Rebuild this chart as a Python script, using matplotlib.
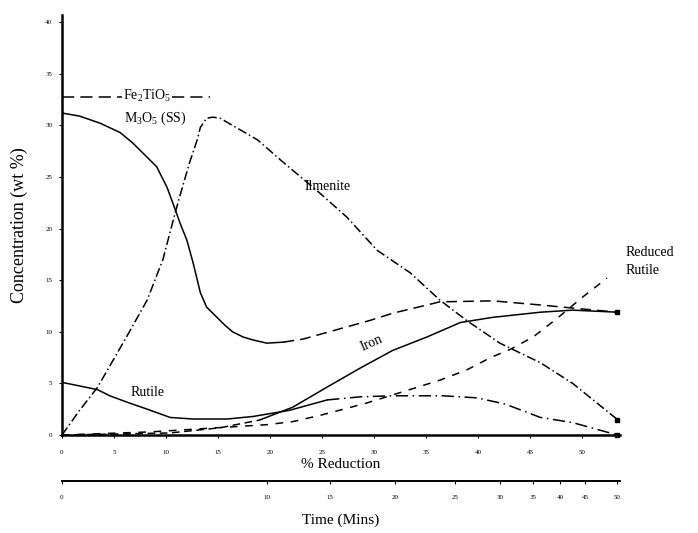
import matplotlib
matplotlib.use("Agg")
import matplotlib.pyplot as plt

plt.rcParams["font.family"] = ["Liberation Serif", "DejaVu Serif"]
plt.rcParams["mathtext.fontset"] = "custom"
plt.rcParams["mathtext.rm"] = "Liberation Serif"

# x = % reduction, y = concentration (wt %)
fe2tio5_x = [0.0, 14.2]
fe2tio5_y = [32.75, 32.75]

m3o5_x = [0.0, 1.7, 3.7, 5.6, 6.8, 8.0, 9.1, 10.1, 10.9, 11.4, 12.0, 12.6, 13.3,
          13.9, 14.9, 15.7, 16.4, 17.4, 18.4, 19.7, 21.3,
          23.2, 26.4, 29.6, 31.8, 35.1, 36.3, 41.4, 46.0, 49.1, 53.4]
m3o5_y = [31.2, 30.9, 30.2, 29.3, 28.3, 27.1, 26.0, 24.0, 21.8, 20.4, 18.9, 16.7, 13.8,
          12.4, 11.4, 10.6, 10.0, 9.5, 9.2, 8.9, 9.0,
          9.3, 10.2, 11.1, 11.8, 12.6, 12.9, 13.0, 12.6, 12.3, 11.9]
m3o5_split = 20

ilm_x = [0.0, 1.7, 3.4, 6.2, 8.2, 9.7, 10.9, 11.6, 12.3, 13.0, 13.3, 13.9, 14.5, 15.2,
         16.4, 18.8, 21.3, 24.5, 27.4, 30.3, 33.5, 36.3, 38.9, 42.1, 46.0, 49.1, 53.4]
ilm_y = [0.0, 2.4, 4.6, 9.5, 13.1, 17.0, 21.6, 24.1, 26.5, 28.6, 29.8, 30.7, 30.8, 30.7,
         30.0, 28.6, 26.4, 23.7, 21.1, 17.9, 15.7, 13.1, 11.1, 8.9, 7.0, 5.0, 1.5]

rut_x = [0.0, 3.4, 4.6, 6.2, 8.2, 10.4, 12.6, 15.9, 18.4, 21.9, 25.5, 28.7, 31.8, 36.6,
         39.9, 42.6, 46.0, 49.1, 53.4]
rut_y = [5.1, 4.4, 3.8, 3.2, 2.5, 1.7, 1.55, 1.55, 1.8, 2.4, 3.4, 3.7, 3.8, 3.8,
         3.6, 3.0, 1.7, 1.2, 0.0]
rut_split = 10

iron_x = [0.0, 5.6, 10.4, 15.2, 19.0, 22.2, 25.5, 28.7, 31.8, 35.1, 38.3, 41.4,
          46.0, 49.1, 53.4]
iron_y = [0.0, 0.1, 0.2, 0.7, 1.45, 2.7, 4.65, 6.5, 8.2, 9.5, 10.9, 11.4,
          11.9, 12.1, 11.9]
iron_split = 4

rr_x = [0.0, 8.5, 19.7, 22.2, 24.8, 26.7, 29.3, 36.3, 38.9, 41.2, 43.1, 45.3,
        47.6, 50.1, 52.4]
rr_y = [0.0, 0.3, 1.0, 1.3, 1.9, 2.4, 3.1, 5.3, 6.3, 7.5, 8.3, 9.5,
        11.3, 13.4, 15.2]

red_ticks = [0, 5, 10, 15, 20, 25, 30, 35, 40, 45, 50]
time_pos = [0.0, 19.7, 25.8, 32.0, 37.8, 42.1, 45.3, 47.9, 50.3, 53.4]
time_labels = ["0", "10", "15", "20", "25", "30", "35", "40", "45", "50"]
conc_ticks = [0, 5, 10, 15, 20, 25, 30, 35, 40]

fig = plt.figure(figsize=(6.98, 5.33), dpi=100)
ax = fig.add_axes([62 / 698, 98 / 533, 558 / 698, 420 / 533])

lw = 1.1
k = "black"
ax.plot(fe2tio5_x, fe2tio5_y, color=k, lw=lw, ls=(0, (8, 4)))

ax.plot(m3o5_x[:m3o5_split + 1], m3o5_y[:m3o5_split + 1], color=k, lw=lw)
ax.plot(m3o5_x[m3o5_split:], m3o5_y[m3o5_split:], color=k, lw=lw, ls=(0, (7, 4)))

ax.plot(ilm_x, ilm_y, color=k, lw=lw, ls=(0, (6, 2, 1, 2)))

ax.plot(rut_x[:rut_split + 1], rut_y[:rut_split + 1], color=k, lw=lw)
ax.plot(rut_x[rut_split:], rut_y[rut_split:], color=k, lw=lw, ls=(0, (8, 3, 1, 3)))

ax.plot(iron_x[:iron_split + 1], iron_y[:iron_split + 1], color=k, lw=lw, ls=(0, (5, 3)))
ax.plot(iron_x[iron_split:], iron_y[iron_split:], color=k, lw=lw)

ax.plot(rr_x, rr_y, color=k, lw=lw, ls=(0, (5, 5)))

# end markers
ax.plot([m3o5_x[-1], ilm_x[-1], rut_x[-1]], [m3o5_y[-1], ilm_y[-1], rut_y[-1]],
        "s", color=k, ms=3, clip_on=False)

ax.set_xlim(0, 53.65)
ax.set_ylim(0, 40.7)
ax.spines["top"].set_visible(False)
ax.spines["right"].set_visible(False)
ax.spines["left"].set_linewidth(1.8)
ax.spines["bottom"].set_linewidth(1.8)

ax.set_xticks(red_ticks)
ax.set_xticklabels([str(t) for t in red_ticks], fontsize=5)
ax.set_yticks(conc_ticks)
ax.set_yticklabels([str(t) for t in conc_ticks], fontsize=5)
ax.tick_params(axis="x", length=2, width=0.8, pad=9)
ax.tick_params(axis="y", length=2, width=0.8, pad=5)
ax.set_xlabel("% Reduction", fontsize=11, labelpad=2)
ax.set_ylabel("Concentration (wt %)", fontsize=13, labelpad=12)

sec = ax.secondary_xaxis(-0.11)
sec.set_xticks(time_pos, labels=time_labels, fontsize=5)
sec.tick_params(length=2, width=0.8, pad=8)
sec.spines["bottom"].set_linewidth(1.4)
sec.set_xlabel("Time (Mins)", fontsize=11, labelpad=10)

# curve labels
ax.text(8.2, 32.85, "Fe$_2$TiO$_5$", fontsize=10, ha="center", va="center",
        bbox=dict(facecolor="white", edgecolor="none", pad=0.5))
ax.text(9.0, 30.7, "M$_3$O$_5$ (SS)", fontsize=10, ha="center", va="center")
ax.text(25.5, 24.1, "Ilmenite", fontsize=10, ha="center", va="center")
ax.text(29.8, 8.9, "Iron", fontsize=10, ha="center", va="center", rotation=24)
ax.text(8.2, 4.1, "Rutile", fontsize=10, ha="center", va="center")
ax.text(54.2, 17.7, "Reduced", fontsize=10, ha="left", va="center", clip_on=False)
ax.text(54.2, 15.9, "Rutile", fontsize=10, ha="left", va="center", clip_on=False)

fig.savefig("out.png", dpi=100)
